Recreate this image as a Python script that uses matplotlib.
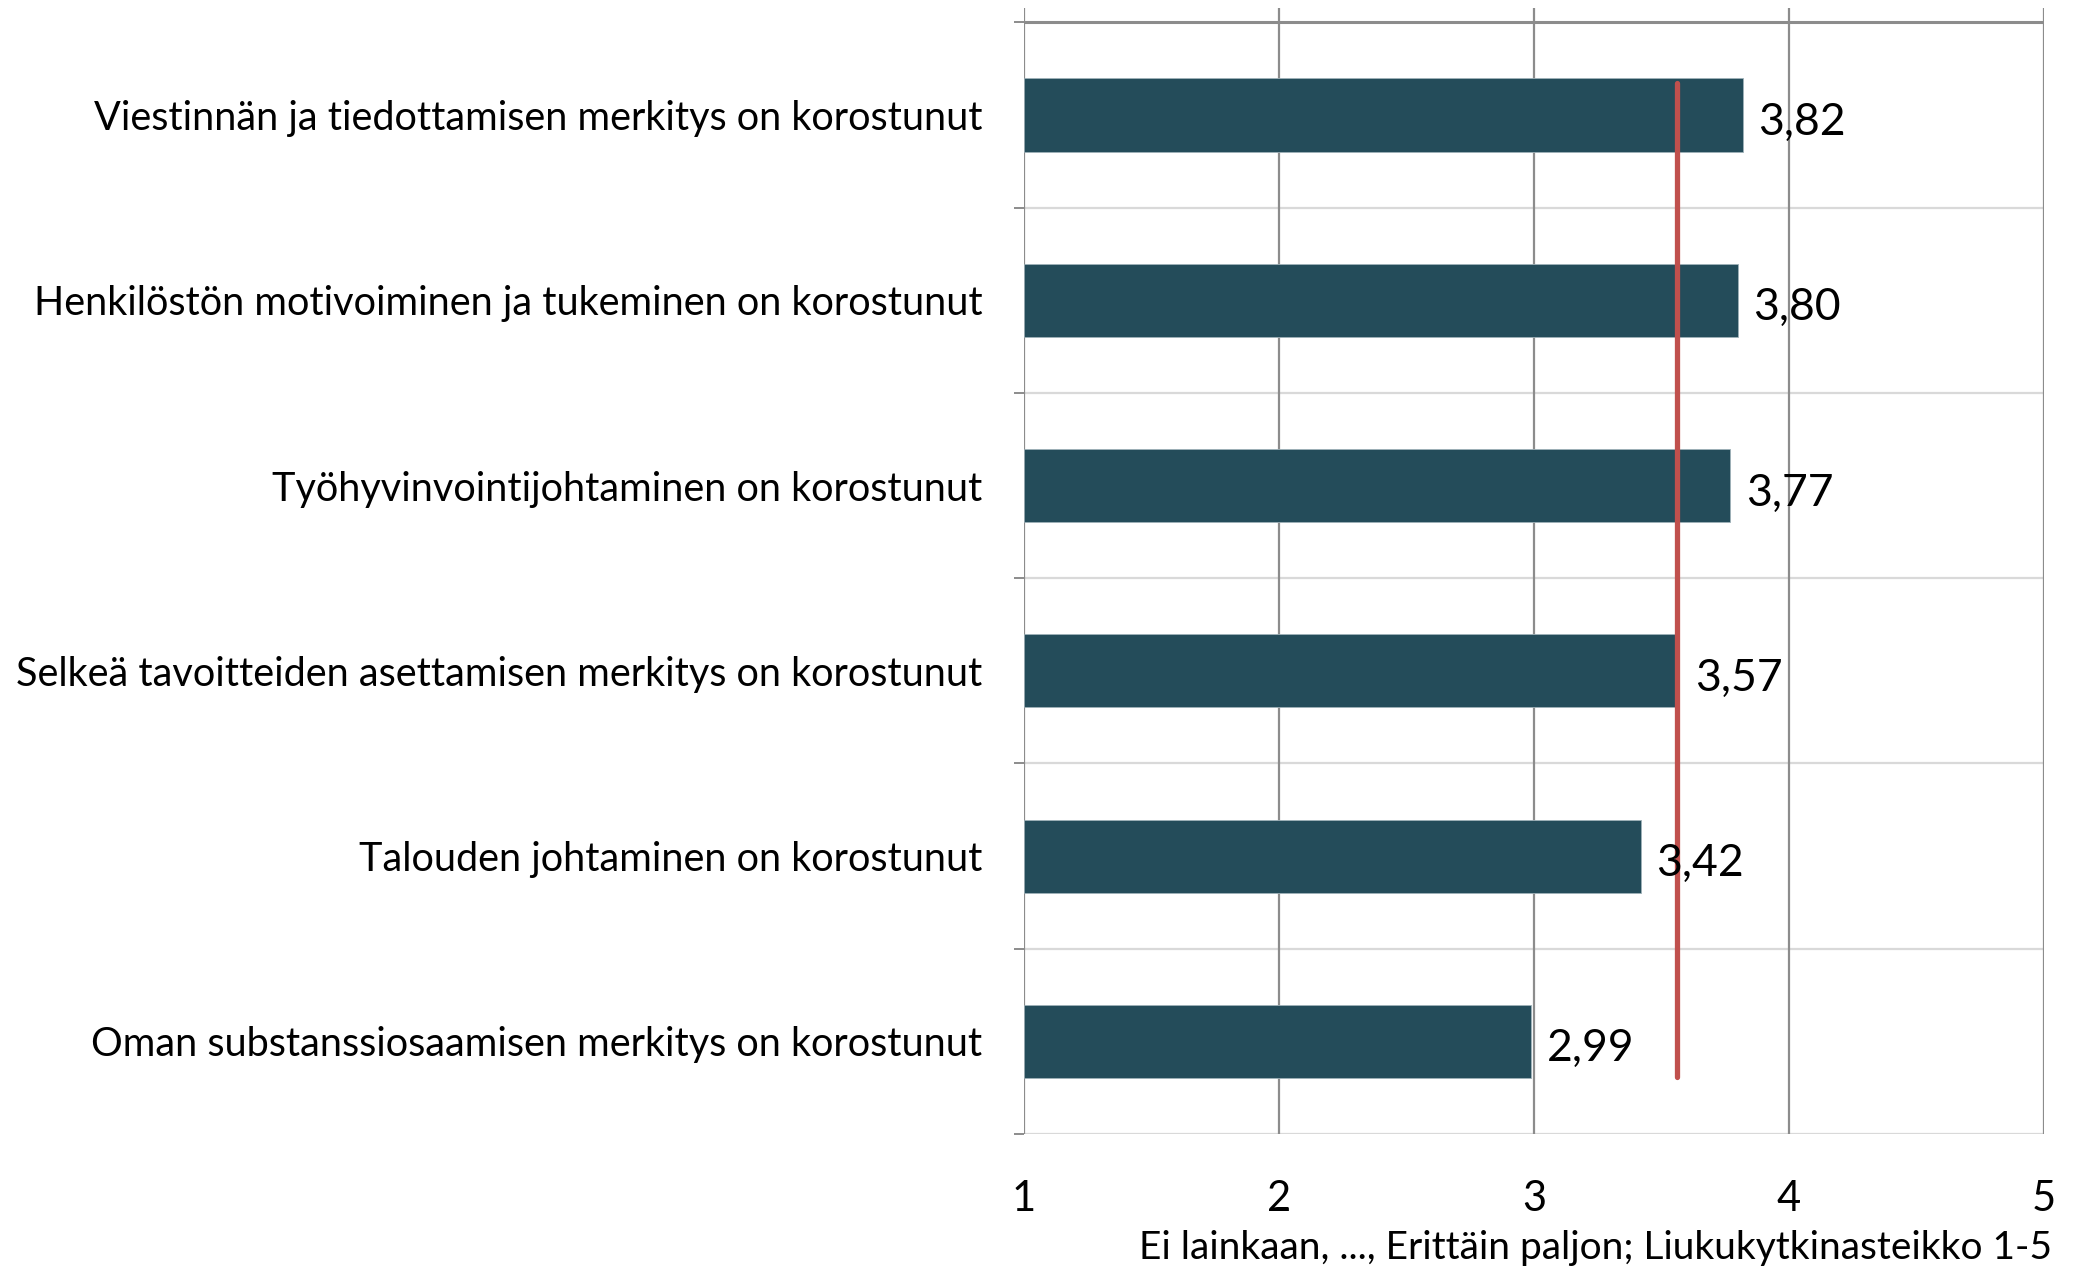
import numpy as np
import matplotlib
matplotlib.use("Agg")
import matplotlib.pyplot as plt

categories = [
    "Viestinnän ja tiedottamisen merkitys on korostunut",
    "Henkilöstön motivoiminen ja tukeminen on korostunut",
    "Työhyvinvointijohtaminen on korostunut",
    "Selkeä tavoitteiden asettamisen merkitys on korostunut",
    "Talouden johtaminen on korostunut",
    "Oman substanssiosaamisen merkitys on korostunut",
]
values = [3.82, 3.80, 3.77, 3.57, 3.42, 2.99]
mean_value = 3.56
x_ticks = [1, 2, 3, 4, 5]
x_label = "Ei lainkaan, ..., Erittäin paljon; Liukukytkinasteikko 1-5"

plt.rcParams['font.family'] = ['Lato', 'DejaVu Sans']

BAR = "#244c5a"
RED = "#c0504d"
DARK_GRID = "#8c8c8c"
LIGHT_GRID = "#d9d9d9"

fig = plt.figure(figsize=(20.74, 12.67), dpi=100)
ax = fig.add_axes([1024 / 2074, 1 - 1134 / 1267, 1020 / 2074, 1126 / 1267])

y = np.arange(len(categories))
ax.barh(y, [v - 1 for v in values], left=1, height=0.395, color=BAR,
        edgecolor="#9fb1b8", linewidth=0.6, zorder=3)

for yi, v in zip(y, values):
    ax.text(v + 0.06, yi + 0.04, f"{v:.2f}".replace(".", ","), va="center",
            ha="left", fontsize=32, color="black", zorder=5)

# keskiarvoviiva
ax.plot([mean_value, mean_value], [y[0] - 0.175, y[-1] + 0.19], color=RED,
        linewidth=3.8, solid_capstyle="round", zorder=4)

ax.set_xlim(1, 5)
ax.set_ylim(len(categories) - 0.5, -0.578)

for xv in x_ticks:
    ax.axvline(xv, color=DARK_GRID, linewidth=1.6, zorder=1)

bounds = np.arange(-0.5, len(categories), 1.0)
for b in bounds:
    if b == bounds[0]:
        ax.axhline(b, color=DARK_GRID, linewidth=2.2, zorder=2)
    else:
        ax.axhline(b, color=LIGHT_GRID, linewidth=1.6, zorder=0)

for s in ax.spines.values():
    s.set_visible(False)

ax.set_xticks(x_ticks)
ax.set_xticklabels([str(t) for t in x_ticks], fontsize=30)
ax.tick_params(axis="x", length=0, pad=33)

ax.set_yticks(y)
ax.set_yticklabels(categories, fontsize=28.5)
ax.tick_params(axis="y", which="major", length=0, pad=30)
ax.set_yticks(bounds, minor=True)
ax.tick_params(axis="y", which="minor", length=7, width=1.4, color=DARK_GRID)

fig.text(2052 / 2074, 1 - 1248 / 1267, x_label, ha="right", va="center", fontsize=28)

fig.savefig("out.png", dpi=100, facecolor="white")
